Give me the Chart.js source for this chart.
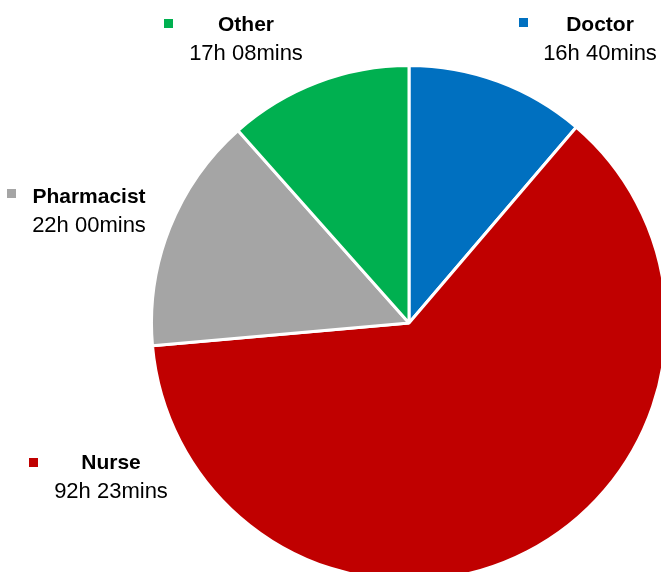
<!DOCTYPE html>
<html>
<head>
<meta charset="utf-8">
<script src="https://cdn.jsdelivr.net/npm/chart.js@4.4.1/dist/chart.umd.min.js"></script>
<style>
  html, body { margin: 0; padding: 0; background: #fff; overflow: hidden; width: 661px; height: 572px; }
  #pieWrap { position: absolute; left: 150px; top: 64px; width: 518px; height: 518px; }
  .lbl { position: absolute; font-family: "Liberation Sans", Arial, sans-serif; color: #000; text-align: center; white-space: nowrap; }
  .lbl .name { font-weight: bold; font-size: 21px; line-height: 28px; }
  .lbl .val { font-size: 22px; line-height: 30px; }
  .mark { position: absolute; width: 9px; height: 9px; }
</style>
</head>
<body>
<div id="pieWrap"><canvas id="pie"></canvas></div>
<div id="labels"></div>
<script>
// data
var categories = ['Doctor', 'Nurse', 'Pharmacist', 'Other'];
var minutes = [1000, 5543, 1320, 1028];   // 16h40, 92h23, 22h00, 17h08
var colours = ['#0070C0', '#C00000', '#A5A5A5', '#00B050'];

// where each label sits: marker x/y, text centre x, top y
var labelPos = [
  { mx: 519, my: 18, cx: 600, top: 10 },
  { mx: 29, my: 458, cx: 111, top: 448 },
  { mx: 7, my: 189, cx: 89, top: 182 },
  { mx: 164, my: 19, cx: 246, top: 10 }
];

function fmt(m) {
  var h = Math.floor(m / 60), r = m % 60;
  return h + 'h ' + (r < 10 ? '0' + r : r) + 'mins';
}

new Chart(document.getElementById('pie'), {
  type: 'pie',
  data: {
    labels: categories,
    datasets: [{
      data: minutes,
      backgroundColor: colours,
      borderColor: '#ffffff',
      borderWidth: 3
    }]
  },
  options: {
    responsive: true,
    maintainAspectRatio: false,
    animation: false,
    layout: { padding: 0 },
    plugins: {
      legend: { display: false },
      tooltip: { enabled: false }
    }
  }
});

var box = document.getElementById('labels');
categories.forEach(function (c, i) {
  var p = labelPos[i];
  var mk = document.createElement('div');
  mk.className = 'mark';
  mk.style.left = p.mx + 'px';
  mk.style.top = p.my + 'px';
  mk.style.background = colours[i];
  box.appendChild(mk);

  var d = document.createElement('div');
  d.className = 'lbl';
  d.style.left = (p.cx - 100) + 'px';
  d.style.width = '200px';
  d.style.top = p.top + 'px';
  d.innerHTML = '<div class="name">' + c + '</div><div class="val">' + fmt(minutes[i]) + '</div>';
  box.appendChild(d);
});
</script>
</body>
</html>
